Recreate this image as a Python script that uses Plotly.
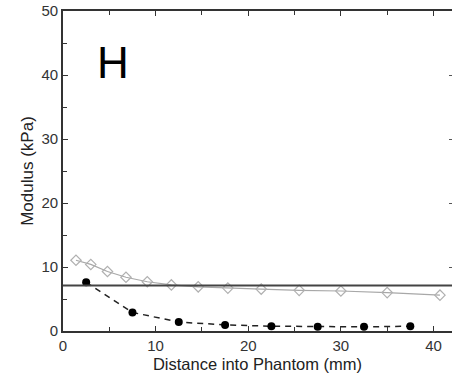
import plotly.graph_objects as go

# Open diamonds (gray series)
diamond_x = [1.4, 3.0, 4.8, 6.8, 9.1, 11.7, 14.6, 17.8, 21.4, 25.5, 30.0, 35.0, 40.7]
diamond_y = [11.05, 10.4, 9.3, 8.4, 7.7, 7.2, 6.9, 6.7, 6.55, 6.35, 6.25, 6.0, 5.6]

# Filled circles (black dashed series)
circle_x = [2.5, 7.5, 12.5, 17.5, 22.5, 27.5, 32.5, 37.5]
circle_y = [7.6, 2.9, 1.4, 0.95, 0.75, 0.65, 0.65, 0.75]

# Reference horizontal level
reference_modulus = 7.1

x_range = [0, 42]
y_range = [0, 50]
panel_label = "H"

font_family = "Arial, Liberation Sans, sans-serif"

fig = go.Figure()

fig.add_trace(go.Scatter(
    x=diamond_x, y=diamond_y, mode="lines+markers",
    line=dict(color="#a8a8a8", width=1.2),
    marker=dict(symbol="diamond-open", size=8, color="#b0b0b0", line=dict(width=1.2)),
    showlegend=False,
))

fig.add_trace(go.Scatter(
    x=circle_x, y=circle_y, mode="lines+markers",
    line=dict(color="#222222", width=1.5, dash="6px,5px"),
    marker=dict(symbol="circle", size=8, color="#000000"),
    showlegend=False,
))

# invisible trace to activate the right-side tick axis
fig.add_trace(go.Scatter(
    x=[x_range[0]], y=[y_range[0]], yaxis="y2", mode="markers",
    marker=dict(opacity=0), showlegend=False, hoverinfo="skip",
))

fig.add_hline(y=reference_modulus, line=dict(color="#444444", width=2))

fig.add_annotation(
    x=5.4, y=41.9, text=panel_label, showarrow=False,
    font=dict(size=44, color="#000000", family=font_family),
    xanchor="center", yanchor="middle",
)

tickfont = dict(size=15, color="#333333", family=font_family)

fig.update_layout(
    width=452, height=383,
    margin=dict(l=63, r=0, t=11, b=52),
    paper_bgcolor="white", plot_bgcolor="white",
    xaxis=dict(
        range=x_range, dtick=10, tick0=0,
        showgrid=False, zeroline=False, showline=True, linecolor="#333333", linewidth=1.6,
        mirror="ticks", ticks="inside", ticklen=5, tickwidth=1.2, tickcolor="#333333",
        tickfont=tickfont,
        minor=dict(dtick=5, ticks="inside", ticklen=4, tickcolor="#333333"),
        title=dict(text="Distance into Phantom (mm)", font=dict(size=16.5, color="#222222", family=font_family), standoff=6),
    ),
    yaxis=dict(
        range=y_range, dtick=10, tick0=0,
        showgrid=False, zeroline=False, showline=True, linecolor="#333333", linewidth=1.6,
        mirror=False, ticks="inside", ticklen=5, tickwidth=1.2, tickcolor="#333333",
        tickfont=tickfont,
        minor=dict(dtick=5, ticks="inside", ticklen=4, tickcolor="#333333"),
        title=dict(text="Modulus (kPa)", font=dict(size=17, color="#222222", family=font_family), standoff=4),
    ),
    yaxis2=dict(
        range=y_range, dtick=10, tick0=0, overlaying="y", side="right",
        showgrid=False, zeroline=False, showline=False, showticklabels=False,
        ticks="inside", ticklen=3, tickwidth=1.2, tickcolor="#555555",
    ),
)

fig.write_html("out.html")
